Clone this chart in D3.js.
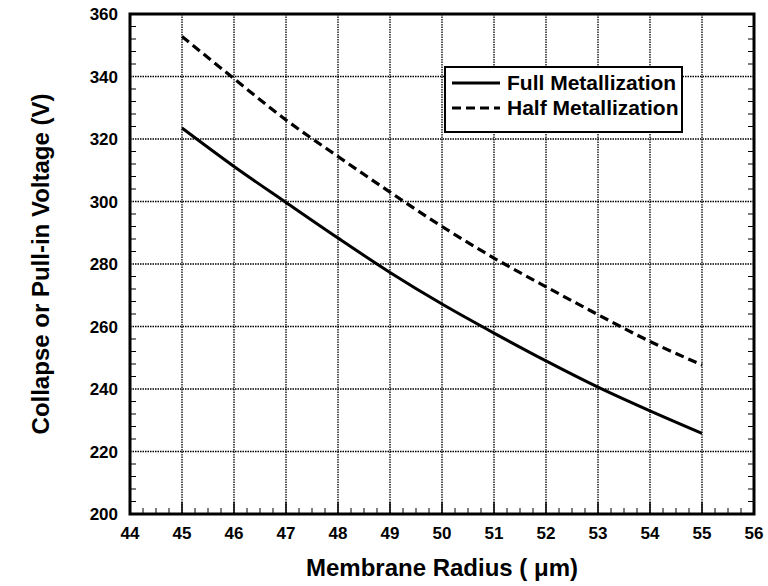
<!DOCTYPE html>
<html><head><meta charset="utf-8">
<script src="https://cdn.jsdelivr.net/npm/d3@7"></script>
<style>body{margin:0;background:#fff}svg{display:block}text{font-family:"Liberation Sans",Arial,sans-serif;font-weight:bold;fill:#000}</style>
</head><body><svg id="c" width="768" height="586"></svg>
<script>
const radius = [45,46,47,48,49,50,51,52,53,54,55];
const fullMetal = [323.5,311.2,299.7,288.3,277.3,267.2,257.9,249.0,240.6,233.0,225.8];
const halfMetal = [352.8,339.3,326.1,314.4,303.0,292.0,281.9,272.7,263.8,255.2,247.7];
const xTicks = [44,45,46,47,48,49,50,51,52,53,54,55,56];
const yTicks = [200,220,240,260,280,300,320,340,360];
const seriesNames = ["Full Metallization","Half Metallization"];

const svg = d3.select("#c");
const L=130,R=754,T=14,B=514;
const x = d3.scaleLinear().domain([44,56]).range([L,R]);
const y = d3.scaleLinear().domain([200,360]).range([B,T]);

// grid
const g = svg.append("g");
g.selectAll(".gx").data(xTicks.slice(1,-1)).join("line")
 .attr("x1",d=>x(d)).attr("x2",d=>x(d)).attr("y1",T).attr("y2",B)
 .attr("stroke","#000").attr("stroke-width",1.3).attr("stroke-dasharray","1.5,1");
g.selectAll(".gy").data(yTicks.slice(1,-1)).join("line")
 .attr("y1",d=>y(d)).attr("y2",d=>y(d)).attr("x1",L).attr("x2",R)
 .attr("stroke","#000").attr("stroke-width",1.3).attr("stroke-dasharray","1.5,1");

// minor ticks
const xMinor = d3.range(44,56.001,0.25).filter(v=>Math.abs(v-Math.round(v))>0.01);
svg.append("g").selectAll("line").data(xMinor).join("line")
 .attr("x1",d=>x(d)).attr("x2",d=>x(d)).attr("y1",B).attr("y2",B-6)
 .attr("stroke","#000").attr("stroke-width",1);
svg.append("g").selectAll("line").data(xTicks.slice(1,-1)).join("line")
 .attr("x1",d=>x(d)).attr("x2",d=>x(d)).attr("y1",B).attr("y2",B-12)
 .attr("stroke","#000").attr("stroke-width",1.5);
const yMinor = d3.range(200,360.001,4).filter(v=>v%20!==0);
svg.append("g").selectAll("line").data(yMinor).join("line")
 .attr("x1",L).attr("x2",L+6).attr("y1",d=>y(d)).attr("y2",d=>y(d))
 .attr("stroke","#000").attr("stroke-width",1);
svg.append("g").selectAll("line").data(yMinor).join("line")
 .attr("x1",R).attr("x2",R-6).attr("y1",d=>y(d)).attr("y2",d=>y(d))
 .attr("stroke","#000").attr("stroke-width",1);

// frame
svg.append("rect").attr("x",L).attr("y",T).attr("width",R-L).attr("height",B-T)
 .attr("fill","none").attr("stroke","#000").attr("stroke-width",3);

// tick labels
svg.append("g").selectAll("text").data(xTicks).join("text")
 .attr("x",d=>x(d)).attr("y",B+25).attr("text-anchor","middle").attr("font-size",17).text(d=>d);
svg.append("g").selectAll("text").data(yTicks).join("text")
 .attr("x",L-12).attr("y",d=>y(d)+6).attr("text-anchor","end").attr("font-size",17).text(d=>d);

// titles
svg.append("text").attr("x",(L+R)/2).attr("y",576).attr("text-anchor","middle").attr("font-size",24)
 .text("Membrane Radius ( \u03BCm)");
svg.append("text").attr("transform",`translate(49,${(T+B)/2}) rotate(-90)`).attr("text-anchor","middle").attr("font-size",24)
 .text("Collapse or Pull-in Voltage (V)");

// lines
const line = d3.line().x((d,i)=>x(radius[i])).y(d=>y(d)).curve(d3.curveCatmullRom);
svg.append("path").datum(fullMetal).attr("d",line).attr("fill","none").attr("stroke","#000").attr("stroke-width",3);
svg.append("path").datum(halfMetal).attr("d",line).attr("fill","none").attr("stroke","#000").attr("stroke-width",3.2).attr("stroke-dasharray","9,5");

// legend
const lg = svg.append("g");
lg.append("rect").attr("x",445).attr("y",67).attr("width",237).attr("height",65)
 .attr("fill","#fff").attr("stroke","#000").attr("stroke-width",2);
const dashes = [null,"9,5"];
seriesNames.forEach((n,i)=>{
  const yy = 83 + i*25;
  lg.append("line").attr("x1",452).attr("x2",500).attr("y1",yy).attr("y2",yy)
   .attr("stroke","#000").attr("stroke-width",3).attr("stroke-dasharray",dashes[i]);
  lg.append("text").attr("x",507).attr("y",yy+7).attr("font-size",21).text(n);
});
</script></body></html>
